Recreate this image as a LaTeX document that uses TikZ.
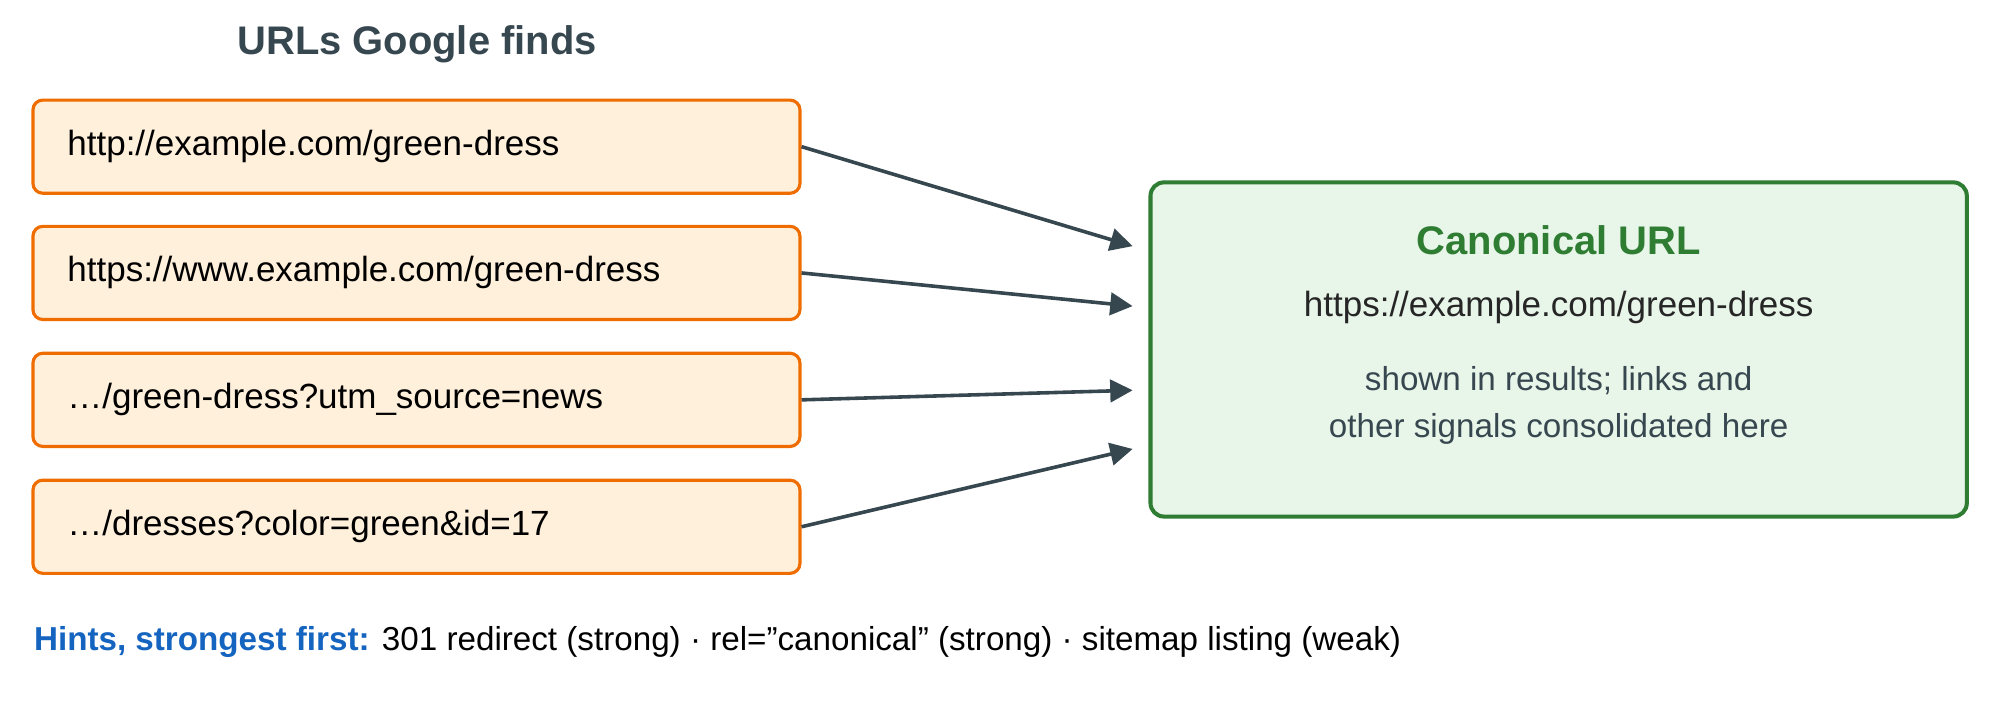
\documentclass[tikz,border=0pt]{standalone}
\usepackage{fontspec}
\setmainfont{Liberation Sans}
\usetikzlibrary{arrows.meta}
\definecolor{urlline}{HTML}{EF6C00}
\definecolor{urlfill}{HTML}{FFF0DC}
\definecolor{canline}{HTML}{2E7D32}
\definecolor{canfill}{HTML}{E8F5E9}
\definecolor{ink}{HTML}{37474F}
\definecolor{hint}{HTML}{1565C0}
\tikzset{
  urlbox/.style={draw=urlline, fill=urlfill, line width=0.7pt, rounded corners=2.2pt,
    minimum width=6.01cm, minimum height=0.73cm, text width=5.47cm, align=left,
    font=\fontsize{7.8}{9}\selectfont, inner sep=0pt},
  link/.style={draw=ink, line width=0.8pt, -{Triangle[length=5pt,width=5pt]}},
}
\begin{document}
\begin{tikzpicture}[x=0.01cm,y=-0.01cm]
				\useasboundingbox (0,0) rectangle (1568,562);
				\node[font=\bfseries\fontsize{8.9}{10}\selectfont, text=ink] (title) at (327,35) {URLs Google finds};
				\node[urlbox] (u1) at (326.5,115) {http://example.com/green-dress};
				\node[urlbox] (u2) at (326.5,214) {https://www.example.com/green-dress};
				\node[urlbox] (u3) at (326.5,313.5) {…/green-dress?utm\_source=news};
				\node[urlbox] (u4) at (326.5,413) {…/dresses?color=green\&id=17};
				\draw[draw=canline, fill=canfill, line width=0.9pt, rounded corners=3pt] (902,143) rectangle (1542,405);
				\node[font=\bfseries\fontsize{8.9}{10}\selectfont, text=canline] (cant) at (1222,188) {Canonical URL};
				\node[font=\fontsize{7.8}{9}\selectfont, text=black!85] (canu) at (1222,241) {https://example.com/green-dress};
				\node[font=\fontsize{7.4}{10.5}\selectfont, text=ink, align=center] (cann) at (1222,318) {shown in results; links and\\other signals consolidated here};
				\coordinate (t1) at (888,193);
				\coordinate (t2) at (888,240);
				\coordinate (t3) at (888,306);
				\coordinate (t4) at (888,352);
				\draw[link] (u1.east) -- (t1);
				\draw[link] (u2.east) -- (t2);
				\draw[link] (u3.east) -- (t3);
				\draw[link] (u4.east) -- (t4);
				\node[anchor=west, inner sep=0pt, font=\fontsize{7.4}{9}\selectfont] (hints) at (26,503)
				  {\textcolor{hint}{\bfseries Hints, strongest first:} 301 redirect (strong) · rel=\symbol{34}canonical\symbol{34} (strong) · sitemap listing (weak)};
			\end{tikzpicture}
\end{document}
